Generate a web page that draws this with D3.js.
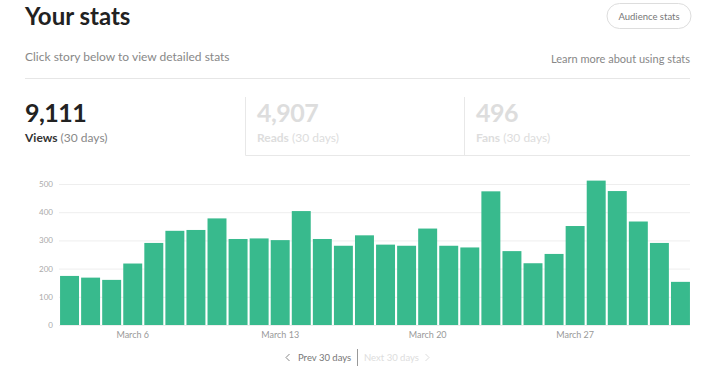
<!DOCTYPE html>
<html>
<head>
<meta charset="utf-8">
<script src="https://cdn.jsdelivr.net/npm/d3@7"></script>
<style>
  body { margin: 0; background: #fff; }
  svg { display: block; font-family: Lato, "Open Sans", sans-serif; }
</style>
</head>
<body>
<svg id="chart"></svg>
<script>
// daily views, March 3 .. April 1
var days = d3.range(30).map(function(i){ return i; });
var views = [174, 168, 160, 218, 291, 334, 337, 378, 305, 307,
             301, 404, 305, 281, 318, 285, 281, 342, 281, 275,
             474, 262, 219, 252, 351, 512, 475, 367, 291, 153];
var tickDays = [3, 10, 17, 24];
var tickNames = ["March 6", "March 13", "March 20", "March 27"];
var yTicks = [0, 100, 200, 300, 400, 500];

var stats = [
  {value: "9,111", label: "Views", on: true},
  {value: "4,907", label: "Reads", on: false},
  {value: "496", label: "Fans", on: false}
];

var width = 720;
var height = 385;

var svg = d3.select("#chart")
    .attr("width", width)
    .attr("height", height);

// header
svg.append("text")
    .attr("x", 25)
    .attr("y", 25)
    .style("font-size", "24px")
    .style("font-weight", "bold")
    .style("fill", "#222")
    .text("Your stats");

svg.append("rect")
    .attr("x", 607)
    .attr("y", 3.5)
    .attr("width", 84)
    .attr("height", 25)
    .attr("rx", 12.5)
    .style("fill", "#fff")
    .style("stroke", "#ddd");

svg.append("text")
    .attr("x", 649)
    .attr("y", 19.5)
    .style("text-anchor", "middle")
    .style("font-size", "9.5px")
    .style("fill", "#777")
    .text("Audience stats");

svg.append("text")
    .attr("x", 25)
    .attr("y", 61)
    .style("font-size", "12px")
    .style("fill", "#888")
    .text("Click story below to view detailed stats");

svg.append("text")
    .attr("x", 690)
    .attr("y", 63)
    .style("text-anchor", "end")
    .style("font-size", "11px")
    .style("fill", "#888")
    .text("Learn more about using stats");

svg.append("line")
    .attr("x1", 25).attr("x2", 690)
    .attr("y1", 78.5).attr("y2", 78.5)
    .style("stroke", "#e6e6e6");

// stat boxes
var boxX = [25, 257, 476];
var box = svg.selectAll("g.stat")
  .data(stats)
  .enter()
  .append("g")
    .attr("class", "stat")
    .attr("transform", function(d, i){ return "translate(" + boxX[i] + ",0)"; });

box.append("text")
    .attr("y", 122)
    .style("font-size", "25px")
    .style("letter-spacing", "-0.5px")
    .style("font-weight", "bold")
    .style("fill", d => d.on ? "#222" : "#ddd")
    .text(d => d.value);

var lab = box.append("text")
    .attr("y", 142)
    .style("font-size", "12px");
lab.append("tspan")
    .style("font-weight", "bold")
    .style("fill", d => d.on ? "#333" : "#ddd")
    .text(d => d.label);
lab.append("tspan")
    .style("fill", d => d.on ? "#888" : "#ddd")
    .text(" (30 days)");

svg.append("path")
    .attr("d", "M245.5,97V155.5H690M464.5,97V155.5")
    .style("fill", "none")
    .style("stroke", "#e8e8e8");

// bar chart
var xScale = d3.scaleBand()
    .domain(days)
    .range([59, 691])
    .paddingInner(0.1)
    .paddingOuter(0.05);

var yScale = d3.scaleLinear()
    .domain([0, 500])
    .range([325, 184]);

var yAxis = d3.axisLeft(yScale)
    .tickValues(yTicks)
    .tickSize(-631)
    .tickPadding(6);

var gy = svg.append("g")
    .attr("transform", "translate(59,0)")
    .call(yAxis);
gy.select(".domain").remove();
gy.selectAll("line").style("stroke", "#eeeeee");
gy.selectAll("text")
    .style("font-family", "Lato, sans-serif")
    .style("font-size", "8px")
    .style("fill", "#aaa");

svg.selectAll("rect.bar")
  .data(views)
  .enter()
  .append("rect")
    .attr("class", "bar")
    .attr("x", (d, i) => xScale(days[i]))
    .attr("y", d => yScale(d))
    .attr("width", xScale.bandwidth())
    .attr("height", d => yScale(0) - yScale(d))
    .style("fill", "#38ba8d");

var xAxis = d3.axisBottom(xScale)
    .tickValues(tickDays)
    .tickFormat(d => tickNames[tickDays.indexOf(d)])
    .tickSize(0)
    .tickPadding(7);

var gx = svg.append("g")
    .attr("transform", "translate(0,325)")
    .call(xAxis);
gx.select(".domain").remove();
gx.selectAll("text")
    .style("font-family", "Lato, sans-serif")
    .style("font-size", "9px")
    .style("fill", "#999");

// paging
svg.append("path")
    .attr("d", "M289.5,354L286,357.5L289.5,361")
    .style("fill", "none")
    .style("stroke", "#888");
svg.append("text")
    .attr("x", 298)
    .attr("y", 361)
    .style("font-size", "9.5px")
    .style("fill", "#777")
    .text("Prev 30 days");
svg.append("line")
    .attr("x1", 357.5).attr("x2", 357.5)
    .attr("y1", 349).attr("y2", 366)
    .style("stroke", "#999");
svg.append("text")
    .attr("x", 364)
    .attr("y", 361)
    .style("font-size", "9.5px")
    .style("fill", "#ddd")
    .text("Next 30 days");
svg.append("path")
    .attr("d", "M425.5,354L429,357.5L425.5,361")
    .style("fill", "none")
    .style("stroke", "#ddd");
</script>
</body>
</html>
